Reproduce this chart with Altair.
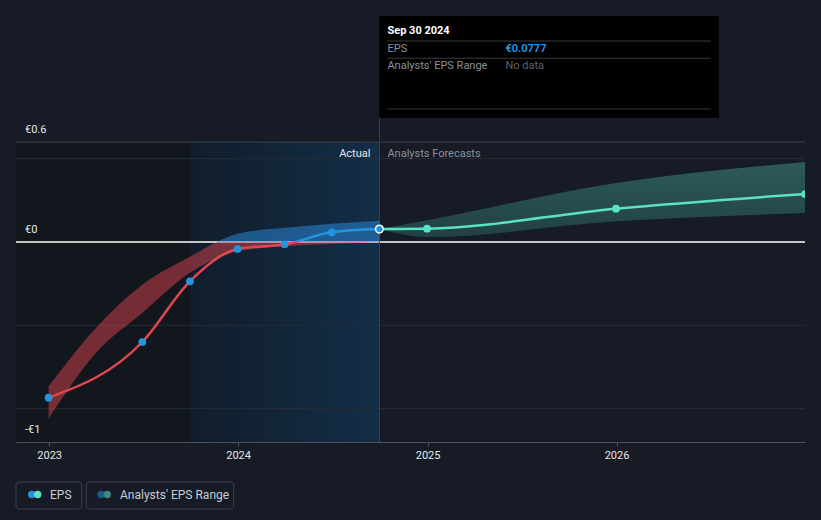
import altair as alt
import pandas as pd

# ---------------- data ----------------
actual_dates = ["2022-12-31", "2023-06-30", "2023-09-30", "2023-12-31",
                "2024-03-31", "2024-06-30", "2024-09-30"]
actual_eps = [-0.934, -0.600, -0.236, -0.042, -0.014, 0.058, 0.0777]

band_dates = ["2022-12-31", "2023-03-31", "2023-06-30", "2023-09-30",
              "2023-12-31", "2024-03-31", "2024-06-30", "2024-09-30"]
band_high = [-0.866, -0.52, -0.256, -0.088, 0.05, 0.085, 0.11, 0.128]
band_low = [-1.06, -0.67, -0.425, -0.184, -0.056, -0.025, -0.012, -0.002]

fc_dates = ["2024-09-30", "2024-12-31", "2025-12-31", "2026-12-31"]
fc_eps = [0.0777, 0.08, 0.20, 0.288]
fc_high = [0.0777, 0.13, 0.354, 0.48]
fc_low = [0.0777, 0.03, 0.124, 0.174]

grid_values = [0.5, -0.5, -1.0]
ylabel_values = [0.6, 0.0, -1.2]
ylabel_texts = ["€0.6", "€0", "-€1"]
year_ticks = [2023, 2024, 2025, 2026]

region_past = ["2022-10-29", "2023-09-30"]
region_actual = ["2023-09-30", "2024-09-30"]
now_date = "2024-09-30"

tooltip_title = "Sep 30 2024"
tooltip_eps = "€0.0777"

# ---------------- helpers ----------------
BG = "#161b26"
BLUE = "#2394df"
RED = "#e2474d"
TEAL = "#5ce0c6"
FONT = "Roboto"

xscale = alt.Scale(type="utc",
                   domain=[alt.DateTime(year=2022, month=10, date=29, utc=True),
                           alt.DateTime(year=2026, month=12, date=31, utc=True)])
xaxis = alt.Axis(values=[alt.DateTime(year=y, month=1, date=1, utc=True) for y in year_ticks],
                 format="%Y", title=None, grid=False, domainColor="#4b515c",
                 tickColor="#4b515c", tickSize=4, labelPadding=3, labelColor="#e8e8e8",
                 labelFontSize=11, labelFont=FONT)
yscale = alt.Scale(domain=[-1.2, 0.6], nice=False, zero=False)


def X(field="date"):
    return alt.X(f"{field}:T", scale=xscale, axis=xaxis)


def Y(field="v"):
    return alt.Y(f"{field}:Q", scale=yscale, axis=None)


actual_df = pd.DataFrame({"date": actual_dates, "v": actual_eps})
band_df = pd.DataFrame({"date": band_dates, "v": band_high, "v2": band_low})
fc_df = pd.DataFrame({"date": fc_dates, "v": fc_eps, "hi": fc_high, "lo": fc_low})
grid_df = pd.DataFrame({"v": grid_values})
ylab_df = pd.DataFrame({"v": ylabel_values, "t": ylabel_texts})
past_df = pd.DataFrame({"date": [region_past[0]], "date2": [region_past[1]]})
act_df = pd.DataFrame({"date": [region_actual[0]], "date2": [region_actual[1]]})
now_df = pd.DataFrame({"date": [now_date]})

# background regions
past_rect = alt.Chart(past_df).mark_rect(fill="#12161d").encode(
    x=X(), x2="date2:T", y=alt.value(0), y2=alt.value(300))
act_rect = alt.Chart(act_df).mark_rect(
    fill=alt.Gradient(gradient="linear", x1=0, y1=0, x2=1, y2=0,
                      stops=[alt.GradientStop(offset=0, color="#111d2b"),
                             alt.GradientStop(offset=1, color="#132e48")])
).encode(x=X(), x2="date2:T", y=alt.value(0), y2=alt.value(300))

# grid
top_rule = alt.Chart(pd.DataFrame({"v": [0.6]})).mark_rule(color="#3a414c", strokeWidth=1).encode(y=Y())
grid = alt.Chart(grid_df).mark_rule(color="#262c37", strokeWidth=1).encode(y=Y())
zero = alt.Chart(pd.DataFrame({"v": [0.0]})).mark_rule(color="#ffffff", strokeWidth=1.5).encode(y=Y())

now_rule = alt.Chart(now_df).mark_rule(color="#2b4560", strokeWidth=1).encode(
    x=X(), y=alt.value(-25), y2=alt.value(300))

# past band (blue above zero, red below)
bmax, bmin = max(band_high), min(band_low)
zf = bmax / (bmax - bmin)
past_band = alt.Chart(band_df).mark_area(
    interpolate="monotone", fillOpacity=0.5,
    fill=alt.Gradient(gradient="linear", x1=0, y1=0, x2=0, y2=1,
                      stops=[alt.GradientStop(offset=0, color="#2a8ee0"),
                             alt.GradientStop(offset=zf, color="#2a8ee0"),
                             alt.GradientStop(offset=zf, color="#d8424c"),
                             alt.GradientStop(offset=1, color="#d8424c")])
).encode(x=X(), y=Y("v"), y2="v2:Q")

fc_band = alt.Chart(fc_df).mark_area(
    interpolate="monotone", fillOpacity=0.32,
    fill=alt.Gradient(gradient="linear", x1=0, y1=0, x2=0, y2=1,
                      stops=[alt.GradientStop(offset=0, color="#5ce0c6"),
                             alt.GradientStop(offset=1, color="#3a9088")])
).encode(x=X(), y=Y("hi"), y2="lo:Q")

# actual line (blue above zero, red below)
amax, amin = max(actual_eps), min(actual_eps)
lz = amax / (amax - amin)
actual_line = alt.Chart(actual_df).mark_line(
    interpolate="monotone", strokeWidth=2.5,
    stroke=alt.Gradient(gradient="linear", x1=0, y1=0, x2=0, y2=1,
                        stops=[alt.GradientStop(offset=0, color=BLUE),
                               alt.GradientStop(offset=lz, color=BLUE),
                               alt.GradientStop(offset=lz, color=RED),
                               alt.GradientStop(offset=1, color=RED)])
).encode(x=X(), y=Y())

fc_line = alt.Chart(fc_df).mark_line(interpolate="monotone", strokeWidth=2.5, color=TEAL).encode(x=X(), y=Y())

actual_pts = alt.Chart(actual_df.iloc[:-1]).mark_circle(size=60, color=BLUE, opacity=1).encode(x=X(), y=Y())
last_pt = alt.Chart(actual_df.iloc[-1:]).mark_point(
    size=60, filled=True, fill=BLUE, stroke="#ffffff", strokeWidth=1.5, opacity=1
).encode(x=X(), y=Y())
fc_pts = alt.Chart(fc_df.iloc[1:]).mark_circle(size=60, color=TEAL, opacity=1, clip=True).encode(x=X(), y=Y())

# y labels
ylabels = alt.Chart(ylab_df).mark_text(
    align="left", baseline="middle", dy=-12, font=FONT, fontSize=11, color="#e8e8e8"
).encode(x=alt.value(9), y=Y(), text="t:N")

actual_txt = alt.Chart(now_df).mark_text(
    align="right", baseline="middle", dx=-9, font=FONT, fontSize=11, color="#e8e8e8"
).encode(x=X(), y=alt.value(12), text=alt.value("Actual"))
fc_txt = alt.Chart(now_df).mark_text(
    align="left", baseline="middle", dx=8, font=FONT, fontSize=11, color="#8c9199"
).encode(x=X(), y=alt.value(12), text=alt.value("Analysts Forecasts"))

# tooltip box
tip_box = alt.Chart(now_df).mark_rect(fill="#000000").encode(
    x=X(), x2=alt.value(703), y=alt.value(-126), y2=alt.value(-24))
sep_df = pd.DataFrame({"date": [now_date] * 3, "py": [-101, -83.7, -33]})
tip_seps = alt.Chart(sep_df).mark_rect(fill="#3a3a3a", height=1).encode(
    x=alt.value(371), x2=alt.value(695), y=alt.Y("py:Q", scale=None))


def tip_text(txt, dx, py, color, bold=False):
    return alt.Chart(now_df).mark_text(
        align="left", baseline="middle", dx=dx, font=FONT, fontSize=11,
        fontWeight="bold" if bold else "normal", color=color
    ).encode(x=X(), y=alt.value(py), text=alt.value(txt))


tips = [
    tip_text(tooltip_title, 8, -111, "#ffffff", True),
    tip_text("EPS", 8, -93, "#8c9199"),
    tip_text(tooltip_eps, 126, -93, BLUE, True),
    tip_text("Analysts' EPS Range", 8, -76, "#8c9199"),
    tip_text("No data", 126, -76, "#5d636b"),
]

# legend
leg_box_df = pd.DataFrame({"x": [0, 70.3], "x2": [65.7, 217.7]})
leg_boxes = alt.Chart(leg_box_df).mark_rect(
    fill=BG, stroke="#3c424c", strokeWidth=1, cornerRadius=3
).encode(x=alt.X("x:Q", scale=None), x2="x2:Q", y=alt.value(340), y2=alt.value(367))
leg_dot_df = pd.DataFrame({"x": [15.7, 21.7, 85, 91.3],
                           "c": [BLUE, TEAL, "#1f5a87", "#3d8682"]})
leg_dots = alt.Chart(leg_dot_df).mark_circle(size=55, opacity=1).encode(
    x=alt.X("x:Q", scale=None), y=alt.value(352.5), color=alt.Color("c:N", scale=None))
leg_txt_df = pd.DataFrame({"x": [34, 104], "t": ["EPS", "Analysts' EPS Range"]})
leg_txt = alt.Chart(leg_txt_df).mark_text(
    align="left", baseline="middle", font=FONT, fontSize=12, color="#c9cdd3"
).encode(x=alt.X("x:Q", scale=None), y=alt.value(352.5), text="t:N")

chart = alt.layer(
    past_rect, act_rect, top_rule, grid, zero, now_rule,
    past_band, fc_band, actual_line, fc_line, actual_pts, last_pt, fc_pts,
    ylabels, actual_txt, fc_txt, tip_box, tip_seps, *tips,
    leg_boxes, leg_dots, leg_txt
).properties(
    width=789, height=300,
    autosize=alt.AutoSizeParams(type="none"),
    padding={"left": 8, "top": 134, "right": 8, "bottom": 70},
    background=BG,
).configure_view(stroke=None)

# page background matching the chart (the page keeps its 8px margin)
save_kwargs = {}
try:
    import jinja2
    from altair.utils.html import TEMPLATES
    _std = TEMPLATES["standard"]
    _dark = jinja2.Template("")

    def _render(*args, **kw):
        html = _std.render(*args, **kw)
        return html.replace("</head>", "<style>html,body{background:%s;}</style></head>" % BG, 1)

    _dark.render = _render
    save_kwargs["template"] = _dark
except Exception:
    save_kwargs = {}

try:
    chart.save("out.html", embed_options={"renderer": "svg", "actions": False}, **save_kwargs)
except Exception:
    chart.save("out.html", embed_options={"renderer": "svg", "actions": False})
